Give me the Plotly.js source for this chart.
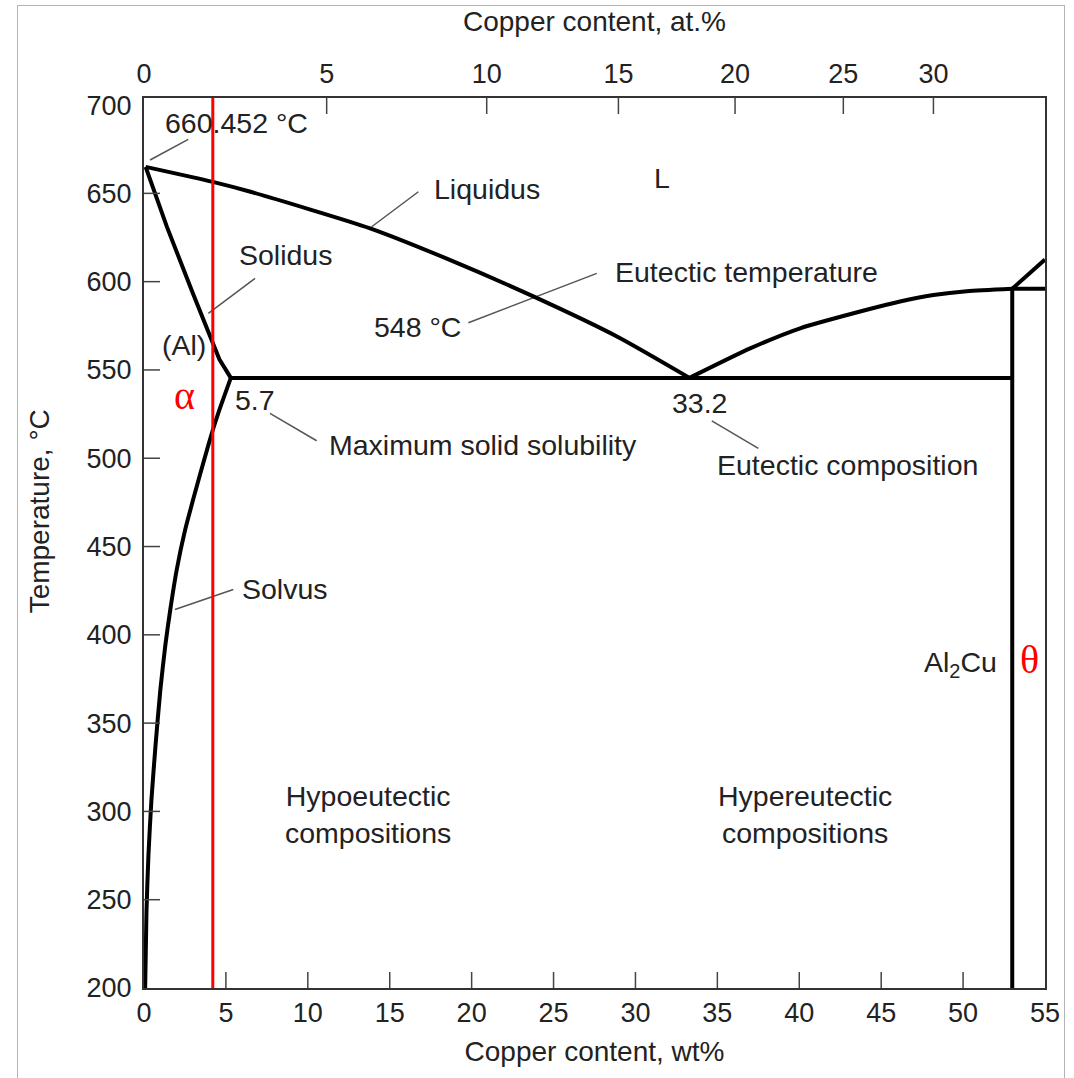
<!DOCTYPE html>
<html>
<head>
<meta charset="utf-8">
<script src="https://cdn.plot.ly/plotly-3.0.1.min.js"></script>
<style>
  html, body { margin: 0; padding: 0; background: #fff; }
  #wrap { position: relative; width: 1074px; height: 1078px; }
  #chart { width: 1074px; height: 1078px; }
  #frame { position: absolute; left: 17px; top: 5px; width: 1046px; height: 1090px;
           border: 1px solid #b4b4b4; pointer-events: none; }
</style>
</head>
<body>
<div id="wrap">
  <div id="chart"></div>
  <div id="frame"></div>
</div>
<script>
// ---- Data (x: wt% Cu, y: temperature °C) ----
const wtTicks = [0, 5, 10, 15, 20, 25, 30, 35, 40, 45, 50, 55];
const tempTicks = [200, 250, 300, 350, 400, 450, 500, 550, 600, 650, 700];
const atTickLabels = ['0', '5', '10', '15', '20', '25', '30'];
const atTickPosWt = [0, 11.15, 20.92, 28.96, 36.08, 42.69, 48.19];

const liquidusLeftX = [0.1, 4.2, 6.5, 13.8, 18.7, 23.8, 28.9, 33.3];
const liquidusLeftT = [665, 656.5, 650.9, 630.2, 612.2, 591.5, 568.8, 545.5];

const liquidusRightX = [33.3, 37.0, 40.05, 44.12, 46.15, 48.19, 50.23, 53.0];
const liquidusRightT = [545.5, 562.2, 573.6, 584.1, 588.8, 592.4, 594.6, 596.0];

const solidusX = [0.1, 1.4, 3.0, 4.0, 4.6, 5.3];
const solidusT = [665, 631, 593, 569, 556, 545.5];

const solvusX = [5.3, 4.55, 4.2, 3.7, 3.1, 2.5, 2.0, 1.6, 1.3, 1.0, 0.7, 0.45, 0.27, 0.15, 0.07];
const solvusT = [545.5, 526, 516, 500, 480, 459, 437, 414, 394, 369, 337, 306, 275, 243, 200];

const eutecticX = [5.3, 53.0];
const eutecticT = [545.5, 545.5];

const thetaX = [53.0, 53.0];
const thetaT = [596.0, 200];

const peritecticX = [53.0, 55];
const peritecticT = [596.0, 596.0];

const upperRightX = [53.0, 55];
const upperRightT = [596.0, 612.5];

const alloyX = [4.2, 4.2];
const alloyT = [200, 704];

// leader lines: [x1, T1, x2, T2]
const leaders = [
  [0.37, 668.9, 2.7, 680.6],
  [13.9, 631.1, 16.75, 650.9],
  [3.93, 582.0, 6.78, 601.9],
  [19.8, 576.7, 27.64, 604.7],
  [7.69, 525.4, 10.54, 509.9],
  [34.66, 521.2, 37.5, 505.6],
  [1.89, 414.3, 5.45, 425.7]
];

// labels: [text, x, T, xanchor]
const labels = [
  ['660.452 °C', 1.16, 689.8, 'left'],
  ['Liquidus', 17.58, 652.4, 'left'],
  ['L', 31.62, 658.7, 'center'],
  ['Solidus', 5.66, 615.1, 'left'],
  ['(Al)', 0.98, 564.1, 'left'],
  ['Eutectic temperature', 28.63, 605.6, 'left'],
  ['548 °C', 13.9, 574.5, 'left'],
  ['5.7', 5.42, 533.0, 'left'],
  ['Maximum solid solubility', 11.15, 507.5, 'left'],
  ['33.2', 32.11, 531.1, 'left'],
  ['Eutectic composition', 34.88, 496.1, 'left'],
  ['Solvus', 5.86, 425.7, 'left'],
  ['Al<sub>2</sub>Cu', 47.48, 383.5, 'left'],
  ['Hypoeutectic<br>compositions', 13.68, 298.2, 'center'],
  ['Hypereutectic<br>compositions', 40.35, 298.2, 'center']
];
// red phase symbols: [text, x, T]
const phaseLabels = [
  ['α', 2.5, 535.8],
  ['θ', 54.03, 386.0]
];

// ---- Build ----
const SANS = 'Liberation Sans, Arial, Helvetica, sans-serif';
const SERIF = 'Liberation Serif, Times New Roman, serif';
const TXT = '#222';
const X_RANGE = [0, 55], Y_RANGE = [200, 704];

function curve(x, y, smooth) {
  return { type: 'scatter', mode: 'lines', x: x, y: y, xaxis: 'x', yaxis: 'y',
           line: { color: '#000', width: 4, shape: smooth ? 'spline' : 'linear', smoothing: 0.6 },
           hoverinfo: 'skip', showlegend: false };
}

const leadX = [], leadY = [];
leaders.forEach(s => { leadX.push(s[0], s[2], null); leadY.push(s[1], s[3], null); });

const traces = [
  { type: 'scatter', mode: 'lines', x: leadX, y: leadY, line: { color: '#555', width: 1.5 },
    hoverinfo: 'skip', showlegend: false, connectgaps: false },
  curve(liquidusLeftX, liquidusLeftT, true),
  curve(liquidusRightX, liquidusRightT, true),
  curve(solidusX, solidusT, false),
  curve(solvusX, solvusT, true),
  curve(eutecticX, eutecticT, false),
  curve(thetaX, thetaT, false),
  curve(peritecticX, peritecticT, false),
  curve(upperRightX, upperRightT, false),
  { type: 'scatter', mode: 'lines', x: alloyX, y: alloyT, line: { color: '#ff0000', width: 3 },
    hoverinfo: 'skip', showlegend: false },
  // invisible trace to activate the top axis
  { type: 'scatter', mode: 'markers', x: [0], y: [200], xaxis: 'x2', yaxis: 'y',
    marker: { opacity: 0 }, hoverinfo: 'skip', showlegend: false }
];

const annotations = labels.map(l => ({
  text: l[0], x: l[1], y: l[2], xref: 'x', yref: 'y', xanchor: l[3], yanchor: 'middle',
  showarrow: false, font: { family: SANS, size: 28.5, color: TXT }
}));
phaseLabels.forEach(p => annotations.push({
  text: p[0], x: p[1], y: p[2], xref: 'x', yref: 'y', xanchor: 'center', yanchor: 'middle',
  showarrow: false, font: { family: SERIF, size: 40, color: '#ff0000' }
}));
annotations.push({
  text: 'Temperature, °C', textangle: -90, xref: 'paper', yref: 'paper',
  x: -0.115, y: 0.536, xanchor: 'center', yanchor: 'middle', showarrow: false,
  font: { family: SANS, size: 28, color: TXT }
});

// inside tick marks, built from the tick arrays
const TICK = { color: '#444', width: 1.5 };
const shapes = [];
wtTicks.filter(v => v > X_RANGE[0] && v < X_RANGE[1]).forEach(v => shapes.push({
  type: 'line', xref: 'x', yref: 'paper', ysizemode: 'pixel', yanchor: 0,
  x0: v, x1: v, y0: 0, y1: 16, line: TICK
}));
atTickPosWt.filter(v => v > X_RANGE[0] && v < X_RANGE[1]).forEach(v => shapes.push({
  type: 'line', xref: 'x', yref: 'paper', ysizemode: 'pixel', yanchor: 1,
  x0: v, x1: v, y0: 0, y1: -16, line: TICK
}));
tempTicks.filter(v => v > Y_RANGE[0] && v < 700).forEach(v => shapes.push({
  type: 'line', xref: 'paper', yref: 'y', xsizemode: 'pixel', xanchor: 0,
  x0: 0, x1: 16, y0: v, y1: v, line: TICK
}));

const axisCommon = {
  showgrid: false, zeroline: false, showline: true, linecolor: '#333', linewidth: 2,
  ticks: '', tickfont: { family: SANS, size: 27, color: TXT }, automargin: false,
  layer: 'above traces'
};

const layout = {
  width: 1074, height: 1078,
  margin: { l: 144, r: 29, t: 98, b: 90 },
  paper_bgcolor: '#fff', plot_bgcolor: '#fff',
  showlegend: false,
  xaxis: Object.assign({}, axisCommon, {
    range: X_RANGE, tickmode: 'array', tickvals: wtTicks, ticktext: wtTicks.map(String),
    ticklabelstandoff: 0,
    title: { text: 'Copper content, wt%', font: { family: SANS, size: 28, color: TXT }, standoff: 14 }
  }),
  xaxis2: Object.assign({}, axisCommon, {
    range: X_RANGE, overlaying: 'x', side: 'top', anchor: 'y',
    tickmode: 'array', tickvals: atTickPosWt, ticktext: atTickLabels,
    ticklabelstandoff: 2,
    title: { text: 'Copper content, at.%', font: { family: SANS, size: 28, color: TXT }, standoff: 19 }
  }),
  yaxis: Object.assign({}, axisCommon, {
    range: Y_RANGE, tickmode: 'array', tickvals: tempTicks, ticktext: tempTicks.map(String),
    mirror: true, ticklabelstandoff: 5
  }),
  shapes: shapes,
  annotations: annotations
};

Plotly.newPlot('chart', traces, layout, { staticPlot: true, displayModeBar: false });
</script>
</body>
</html>
